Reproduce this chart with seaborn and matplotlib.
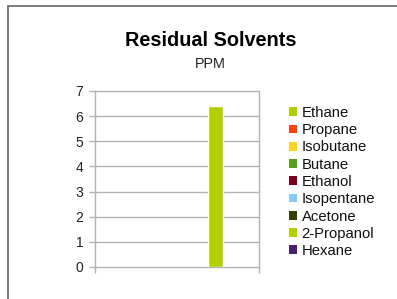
import matplotlib
matplotlib.use('Agg')
import matplotlib.pyplot as plt
import matplotlib.patches as mpatches
import seaborn as sns
import pandas as pd

# ------------------------
# Data
# ------------------------
solvents = ['Ethane', 'Propane', 'Isobutane', 'Butane', 'Ethanol',
            'Isopentane', 'Acetone', '2-Propanol', 'Hexane']
ppm = [0, 0, 0, 0, 0, 0, 0, 6.4, 0]
colors = ['#aecf00', '#ff420e', '#ffd320', '#579d1c', '#7e0021',
          '#83caff', '#314004', '#b2d000', '#4b1f6f']
group = ['PPM'] * len(solvents)

df = pd.DataFrame({'group': group, 'solvent': solvents, 'ppm': ppm})

# ------------------------
# Plotting
# ------------------------
sns.set_style('white')
plt.rcParams['font.family'] = ['Liberation Sans', 'DejaVu Sans']

fig = plt.figure(figsize=(3.97, 2.99), dpi=100)
ax = fig.add_axes([95 / 397, 1 - 267 / 299, 164 / 397, 176 / 299])

sns.barplot(data=df, x='group', y='ppm', hue='solvent', hue_order=solvents,
            palette=colors, width=0.84, gap=0, ax=ax, legend=False,
            saturation=1)

ax.set_xlim(-0.455, 0.545)
ax.set_ylim(0, 7)
ax.set_yticks(range(0, 8))
ax.set_xticks([-0.455, 0.545])
ax.set_xticklabels(['', ''])
ax.set_xlabel('')
ax.set_ylabel('')
ax.yaxis.grid(True, color='#b3b3b3', lw=1)
for gl in ax.get_ygridlines():
    gl.set_clip_on(False)
ax.set_axisbelow(True)
ax.tick_params(axis='y', length=4.5, width=1, color='#b3b3b3', pad=4,
               labelsize=10, labelcolor='#222222', left=True)
ax.tick_params(axis='x', length=4, width=1, color='#b3b3b3', bottom=True)
for side in ['top', 'bottom']:
    ax.spines[side].set_visible(False)
for side in ['left', 'right']:
    ax.spines[side].set_color('#b3b3b3')
    ax.spines[side].set_linewidth(1)

# Legend on the right
handles = [mpatches.Patch(facecolor=c, edgecolor='none') for c in colors]
fig.legend(handles, solvents, loc='center left',
           bbox_to_anchor=(289 / 397, 1 - 182 / 299), frameon=False,
           borderpad=0, borderaxespad=0, fontsize=10.7, handlelength=0.54,
           handleheight=0.54, handletextpad=0.3, labelspacing=0.22,
           labelcolor='#111111')

# Titles
fig.text(0.531, 1 - 41 / 299, 'Residual Solvents', ha='center',
         va='center', fontsize=14.3, weight='bold', color='black')
fig.text(0.531, 1 - 64.5 / 299, 'PPM', ha='center', va='center',
         fontsize=10.4, color='#222222')

# Outer frame (top and left only visible)
fig.patches.append(mpatches.Rectangle(
    (7.5 / 397, -0.1), 1.2, 1 - 5.5 / 299 + 0.1, transform=fig.transFigure,
    fill=False, edgecolor='#666666', lw=1.2))

fig.savefig('out.png', dpi=100)
